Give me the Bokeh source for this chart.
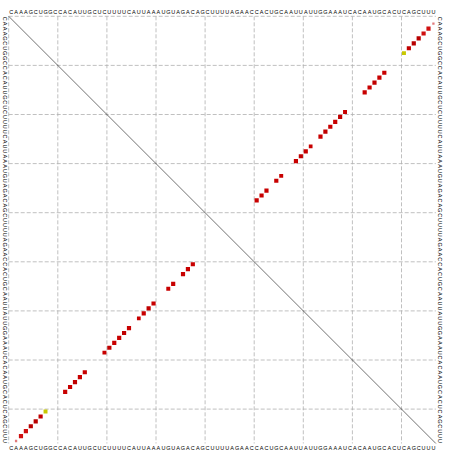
import numpy as np
from bokeh.plotting import figure
from bokeh.models import Range1d
from bokeh.core.properties import value
from bokeh.embed import file_html
from bokeh.resources import INLINE

# RNA sequence shown on all four sides
sequence = ("CAAAGCUGGCCACAUUGCUCUUUUCAUUAA"
            "AUGUAGACAGCUUUUAGAACCACUGC"
            "AAUUAUUGGAAAUCACAAUGCACUCAGCUUU")

# base pairs (0-based positions)
pair_i = [1, 2, 3, 4, 5, 6, 7,
          11, 12, 13, 14, 15,
          19, 20, 21, 22, 23, 24,
          26, 27, 28, 29,
          32, 33,
          35, 36, 37]
pair_j = [86, 85, 84, 83, 82, 81, 80,
          76, 75, 74, 73, 72,
          68, 67, 66, 65, 64, 63,
          61, 60, 59, 58,
          55, 54,
          52, 51, 50]
# pair probability (box size) and colour class
pair_prob = [0.3, 1.0, 1.0, 1.0, 1.0, 1.0, 0.9,
             1.0, 1.0, 1.0, 1.0, 1.0,
             0.9, 1.0, 1.0, 1.0, 1.0, 1.0,
             0.8, 1.0, 1.0, 1.0,
             0.9, 1.0,
             1.0, 1.0, 1.0]
pair_color = ["#e07a7a", "#d01010", "#d01010", "#b80000", "#b80000", "#c00000", "#c8c800",
              "#c80000", "#c80000", "#c00000", "#c80000", "#c80000",
              "#c80000", "#c00000", "#c80000", "#c80000", "#c00000", "#c80000",
              "#c80000", "#c80000", "#c00000", "#c80000",
              "#c80000", "#c80000",
              "#c80000", "#c80000", "#c80000"]

N = len(sequence)
cell = 4.91
x0, y0 = 8.2, 15.8
W, H = 450, 450

p = figure(width=W, height=H, output_backend="svg", toolbar_location=None,
           x_range=Range1d((0 - x0) / cell, (W - x0) / cell),
           y_range=Range1d((H - y0) / cell, (0 - y0) / cell),
           x_axis_type=None, y_axis_type=None, min_border=0,
           background_fill_color="white", border_fill_color="white")
p.outline_line_color = None
p.grid.visible = False
p.styles = {"margin-left": "0px", "margin-top": "0px"}

# dashed grid every 10 positions (incl. top/left border)
ticks = list(range(0, N, 10))
p.segment(x0=ticks, y0=[0] * len(ticks), x1=ticks, y1=[N] * len(ticks),
          line_color="#b0b0b0", line_width=0.8, line_dash="4 2")
p.segment(x0=[0] * len(ticks), y0=ticks, x1=[N] * len(ticks), y1=ticks,
          line_color="#b0b0b0", line_width=0.8, line_dash="4 2")

# main diagonal
p.line([0, N], [0, N], line_color="#333333", line_width=0.7)

# boxes: lower-left (i, j) and upper-right (j, i)
sz = [0.85 * np.sqrt(v) for v in pair_prob]
xs = [i + 0.5 for i in pair_i] + [j + 0.5 for j in pair_j]
ys = [j + 0.5 for j in pair_j] + [i + 0.5 for i in pair_i]
p.rect(x=xs, y=ys, width=sz + sz, height=sz + sz, fill_color=pair_color + pair_color,
       line_color=None)

# sequence along all four sides
letters = list(sequence)
pos = [k + 0.5 for k in range(N)]
font = value("Liberation Sans")
fs = "5.5px"
p.text(x=pos, y=[-0.95] * N, text=letters, text_font=font, text_font_size=fs,
       text_align="center", text_baseline="middle", text_color="black")
p.text(x=pos, y=[N + 1.0] * N, text=letters, text_font=font, text_font_size=fs,
       text_align="center", text_baseline="middle", text_color="black")
p.text(x=[-0.75] * N, y=pos, text=letters, text_font=font, text_font_size=fs,
       text_align="center", text_baseline="middle", text_color="black", angle=-np.pi / 2)
p.text(x=[N + 0.75] * N, y=pos, text=letters, text_font=font, text_font_size=fs,
       text_align="center", text_baseline="middle", text_color="black", angle=-np.pi / 2)

open("out.html", "w").write(file_html(p, INLINE))
